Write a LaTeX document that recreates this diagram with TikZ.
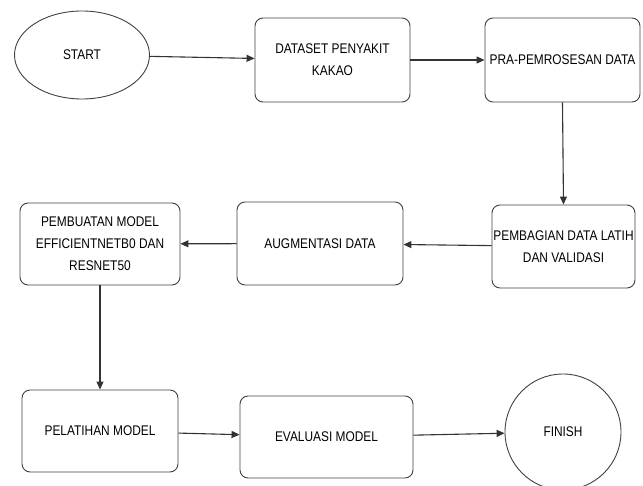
\documentclass[tikz,border=0pt]{standalone}
\usepackage{fontspec}
\setmainfont{Liberation Sans}[FakeStretch=0.85]
\usetikzlibrary{arrows.meta,shapes.geometric}
\begin{document}
\begin{tikzpicture}[x=1pt,y=-1pt,
  proc/.style={draw=black!75,line width=0.9pt,rounded corners=8pt,align=center,inner sep=0pt,
    font=\fontsize{14}{22}\selectfont},
  term/.style={draw=black!75,line width=0.9pt,align=center,inner sep=0pt,font=\fontsize{14}{22}\selectfont},
  flow/.style={draw=black!80,line width=1.1pt,-{Triangle[length=8pt,width=7pt]}}]
\useasboundingbox (0,0) rectangle (643,486);
\node[term,ellipse,minimum width=135pt,minimum height=88pt] (start) at (82,55) {START};
\node[proc,minimum width=155pt,minimum height=84pt] (data) at (332.5,60) {DATASET PENYAKIT\\KAKAO};
\node[proc,minimum width=155pt,minimum height=84pt] (pra) at (562.5,60) {PRA-PEMROSESAN DATA};
\node[proc,minimum width=143pt,minimum height=83pt] (bagi) at (563.5,246.5) {PEMBAGIAN DATA LATIH\\DAN VALIDASI};
\node[proc,minimum width=166pt,minimum height=83pt] (aug) at (320,243.5) {AUGMENTASI DATA};
\node[proc,minimum width=160pt,minimum height=82pt] (buat) at (100,244) {PEMBUATAN MODEL\\EFFICIENTNETB0 DAN\\RESNET50};
\node[proc,minimum width=156pt,minimum height=82pt] (latih) at (100,431) {PELATIHAN MODEL};
\node[proc,minimum width=173pt,minimum height=82pt] (eval) at (326.5,437) {EVALUASI MODEL};
\node[term,circle,minimum size=116pt] (fin) at (563,432) {FINISH};
\draw[flow] (start) -- (data);
\draw[flow] (data) -- (pra);
\draw[flow] (pra.south) -- (bagi.north);
\draw[flow] (bagi) -- (aug);
\draw[flow] (aug) -- (buat);
\draw[flow] (buat.south) -- (latih.north);
\draw[flow] (latih) -- (eval);
\draw[flow] (eval) -- (fin);
\end{tikzpicture}
\end{document}
